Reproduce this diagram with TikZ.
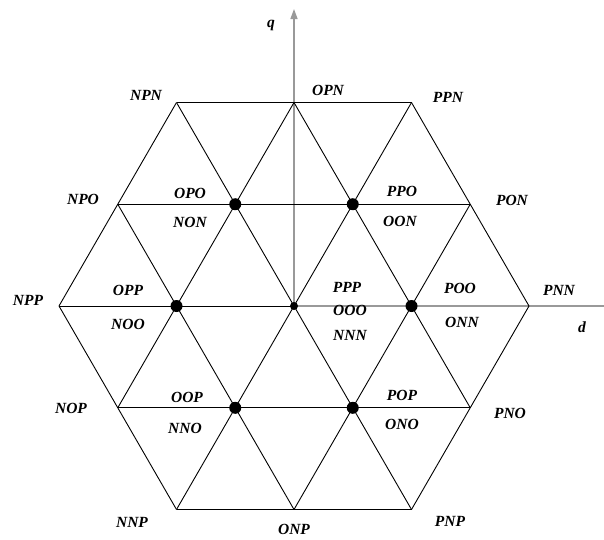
\documentclass[tikz,border=0pt]{standalone}
\usepackage{fontspec}
\setmainfont{Liberation Serif}
\usetikzlibrary{arrows.meta}
\tikzset{
  grid/.style={draw=black, line width=0.9pt},
  axis/.style={draw=black!40, line width=1.4pt},
  lab/.style={font=\fontsize{15.5}{16}\selectfont\bfseries\itshape, inner sep=0pt},
  bigdot/.style={circle, fill=black, inner sep=0pt, minimum size=12pt},
  smalldot/.style={circle, fill=black, inner sep=0pt, minimum size=8pt}
}
\begin{document}
\begin{tikzpicture}[x=1pt,y=-1pt]
\useasboundingbox (0,0) rectangle (604,539);
% grid points
\coordinate (T1) at (176.5,102.5);
\coordinate (T2) at (294,102.5);
\coordinate (T3) at (411.5,102.5);
\coordinate (U1) at (117.75,204.2);
\coordinate (U2) at (235.25,204.2);
\coordinate (U3) at (352.75,204.2);
\coordinate (U4) at (470.25,204.2);
\coordinate (M1) at (59,306);
\coordinate (M2) at (176.5,306);
\coordinate (M3) at (294,306);
\coordinate (M4) at (411.5,306);
\coordinate (M5) at (529,306);
\coordinate (L1) at (117.75,407.8);
\coordinate (L2) at (235.25,407.8);
\coordinate (L3) at (352.75,407.8);
\coordinate (L4) at (470.25,407.8);
\coordinate (B1) at (176.5,509.5);
\coordinate (B2) at (294,509.5);
\coordinate (B3) at (411.5,509.5);
\coordinate (qtip) at (294,9);
\coordinate (dend) at (604,306);
% axes
\draw[axis, -{Triangle[length=10pt,width=7pt]}] (M3) -- (qtip);
\draw[axis] (M3) -- (dend);
% horizontals
\draw[grid] (T1) -- (T3);
\draw[grid] (U1) -- (U4);
\draw[grid] (M1) -- (M3);
\draw[grid] (L1) -- (L4);
\draw[grid] (B1) -- (B3);
% rising diagonals
\draw[grid] (M1) -- (T1);
\draw[grid] (L1) -- (T2);
\draw[grid] (B1) -- (T3);
\draw[grid] (B2) -- (U4);
\draw[grid] (B3) -- (M5);
% falling diagonals
\draw[grid] (T2) -- (L4);
\draw[grid] (T1) -- (B3);
\draw[grid] (U1) -- (B2);
\draw[grid] (M1) -- (B1);
\draw[grid] (T3) -- (M5);
% dots
\node[bigdot] (dU2) at (U2) {};
\node[bigdot] (dU3) at (U3) {};
\node[bigdot] (dM2) at (M2) {};
\node[bigdot] (dM4) at (M4) {};
\node[bigdot] (dL2) at (L2) {};
\node[bigdot] (dL3) at (L3) {};
\node[smalldot] (dM3) at (M3) {};
% labels
\node[lab] (q) at (271,25) {q};
\node[lab] (d) at (582,327) {d};
\node[lab] (NPN) at (146,95) {NPN};
\node[lab] (OPN) at (328,90) {OPN};
\node[lab] (PPN) at (448,97) {PPN};
\node[lab] (NPO) at (83,199) {NPO};
\node[lab] (OPO) at (190,193) {OPO};
\node[lab] (NON) at (190,222) {NON};
\node[lab] (PPO) at (402,191) {PPO};
\node[lab] (OON) at (400,221) {OON};
\node[lab] (PON) at (512,200) {PON};
\node[lab] (NPP) at (28,300) {NPP};
\node[lab] (OPP) at (128,290) {OPP};
\node[lab] (NOO) at (128,324) {NOO};
\node[lab] (PPP) at (347,287) {PPP};
\node[lab] (OOO) at (350,310) {OOO};
\node[lab] (NNN) at (350,335) {NNN};
\node[lab] (POO) at (460,288) {POO};
\node[lab] (ONN) at (462,322) {ONN};
\node[lab] (PNN) at (559,290) {PNN};
\node[lab] (NOP) at (71,408) {NOP};
\node[lab] (OOP) at (187,397) {OOP};
\node[lab] (NNO) at (185,428) {NNO};
\node[lab] (POP) at (402,395) {POP};
\node[lab] (ONO) at (402,424) {ONO};
\node[lab] (PNO) at (510,413) {PNO};
\node[lab] (NNP) at (132,522) {NNP};
\node[lab] (ONP) at (294,529) {ONP};
\node[lab] (PNP) at (450,521) {PNP};
\end{tikzpicture}
\end{document}
